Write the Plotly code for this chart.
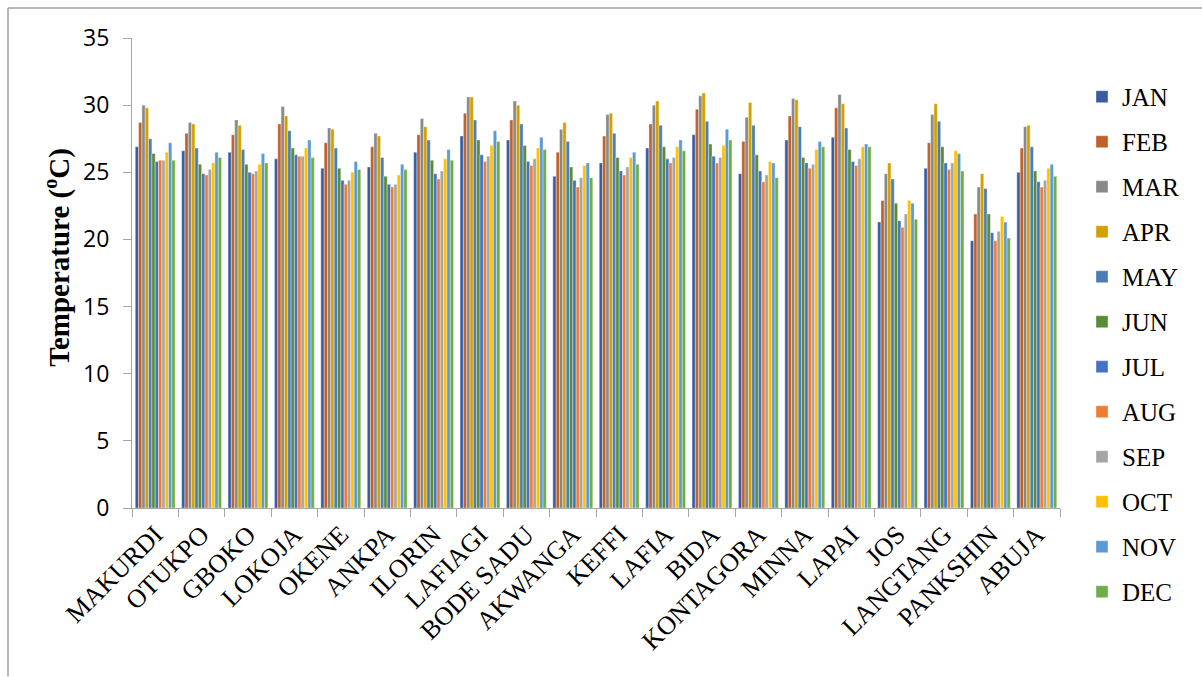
import plotly.graph_objects as go

stations = ["MAKURDI", "OTUKPO", "GBOKO", "LOKOJA", "OKENE", "ANKPA", "ILORIN", "LAFIAGI",
            "BODE SADU", "AKWANGA", "KEFFI", "LAFIA", "BIDA", "KONTAGORA", "MINNA", "LAPAI",
            "JOS", "LANGTANG", "PANKSHIN", "ABUJA"]
months = ["JAN", "FEB", "MAR", "APR", "MAY", "JUN", "JUL", "AUG", "SEP", "OCT", "NOV", "DEC"]

MAKURDI = [26.9, 28.7, 30.0, 29.8, 27.5, 26.4, 25.8, 25.9, 25.9, 26.5, 27.2, 25.9]
OTUKPO = [26.6, 27.9, 28.7, 28.6, 26.8, 25.6, 24.9, 24.8, 25.2, 25.7, 26.5, 26.1]
GBOKO = [26.5, 27.8, 28.9, 28.5, 26.7, 25.6, 25.0, 24.9, 25.1, 25.6, 26.4, 25.7]
LOKOJA = [26.0, 28.6, 29.9, 29.2, 28.1, 26.8, 26.3, 26.2, 26.2, 26.8, 27.4, 26.1]
OKENE = [25.3, 27.2, 28.3, 28.2, 26.8, 25.3, 24.4, 24.1, 24.4, 25.0, 25.8, 25.2]
ANKPA = [25.4, 26.9, 27.9, 27.7, 26.1, 24.7, 24.1, 23.9, 24.1, 24.8, 25.6, 25.2]
ILORIN = [26.5, 27.8, 29.0, 28.4, 27.4, 25.9, 24.9, 24.5, 25.1, 26.0, 26.7, 25.9]
LAFIAGI = [27.7, 29.4, 30.6, 30.6, 28.9, 27.4, 26.3, 25.8, 26.2, 27.0, 28.1, 27.3]
BODE_SADU = [27.4, 28.9, 30.3, 30.0, 28.6, 27.0, 25.8, 25.5, 26.0, 26.8, 27.6, 26.7]
AKWANGA = [24.7, 26.5, 28.2, 28.7, 27.3, 25.4, 24.4, 23.9, 24.6, 25.5, 25.7, 24.6]
KEFFI = [25.7, 27.7, 29.3, 29.4, 27.9, 26.1, 25.1, 24.8, 25.4, 26.1, 26.5, 25.6]
LAFIA = [26.8, 28.6, 30.0, 30.3, 28.5, 26.9, 26.0, 25.7, 26.1, 26.9, 27.4, 26.6]
BIDA = [27.8, 29.7, 30.7, 30.9, 28.8, 27.1, 26.2, 25.7, 26.1, 27.0, 28.2, 27.4]
KONTAGORA = [24.9, 27.3, 29.1, 30.2, 28.5, 26.3, 25.1, 24.3, 24.8, 25.8, 25.7, 24.6]
MINNA = [27.4, 29.2, 30.5, 30.4, 28.4, 26.1, 25.7, 25.3, 25.6, 26.7, 27.3, 26.9]
LAPAI = [27.6, 29.8, 30.8, 30.1, 28.3, 26.7, 25.8, 25.5, 26.0, 26.9, 27.1, 26.9]
JOS = [21.3, 22.9, 24.9, 25.7, 24.5, 22.7, 21.4, 20.9, 21.9, 22.9, 22.7, 21.5]
LANGTANG = [25.3, 27.2, 29.3, 30.1, 28.8, 26.9, 25.7, 25.2, 25.7, 26.6, 26.4, 25.1]
PANKSHIN = [19.9, 21.9, 23.9, 24.9, 23.8, 21.9, 20.5, 19.9, 20.6, 21.7, 21.3, 20.1]
ABUJA = [25.0, 26.8, 28.4, 28.5, 26.9, 25.1, 24.3, 23.9, 24.4, 25.3, 25.6, 24.7]

station_values = [MAKURDI, OTUKPO, GBOKO, LOKOJA, OKENE, ANKPA, ILORIN, LAFIAGI, BODE_SADU,
                  AKWANGA, KEFFI, LAFIA, BIDA, KONTAGORA, MINNA, LAPAI, JOS, LANGTANG,
                  PANKSHIN, ABUJA]

colors = ["#3A5DA2", "#C0612A", "#898989", "#D4A000", "#4A7EB5", "#5A8C38",
          "#4472C4", "#ED7D31", "#A5A5A5", "#FFC000", "#5B9BD5", "#70AD47"]

W, H = 1202, 677
L, R, T, B = 132, 142, 38, 168.5
pw, ph = W - L - R, H - T - B

fig = go.Figure()
for i, m in enumerate(months):
    fig.add_trace(go.Bar(
        x=stations,
        y=[vals[i] for vals in station_values],
        name=m,
        legendgroup=m,
        marker=dict(color=colors[i], line=dict(color="rgba(255,255,255,0.6)", width=0.6)),
    ))

fig.update_layout(
    width=W, height=H,
    margin=dict(l=L, r=R, t=T, b=B, pad=0),
    paper_bgcolor="white", plot_bgcolor="white",
    barmode="group", bargap=0.14, bargroupgap=0,
    showlegend=True,
    legend=dict(
        x=(1082 - L) / pw, y=(508.5 - 74) / ph, xanchor="left", yanchor="top",
        font=dict(family="Liberation Serif", size=25, color="black"),
        traceorder="grouped", tracegroupgap=9.5, maxheight=640,
        bgcolor="rgba(0,0,0,0)",
    ),
    font=dict(family="Liberation Serif", color="black"),
    xaxis=dict(
        showline=True, linecolor="#a6a6a6", linewidth=1,
        ticks="outside", tickson="boundaries", ticklen=8, tickcolor="#a6a6a6",
        tickangle=-45,
        tickfont=dict(family="Liberation Serif", size=26, color="black"),
        showgrid=False,
    ),
    yaxis=dict(
        range=[0, 35], dtick=5, tick0=0,
        showline=True, linecolor="#a6a6a6", linewidth=1,
        ticks="outside", ticklen=8, tickcolor="#a6a6a6",
        ticklabelstandoff=9,
        tickfont=dict(family="Open Sans", size=23, color="black"),
        showgrid=False, zeroline=False,
    ),
    annotations=[dict(
        text="Temperature (<sup>o</sup>C)",
        textangle=-90, xref="paper", yref="paper",
        x=(58 - L) / pw, y=(508.5 - 258) / ph, xanchor="center", yanchor="middle",
        showarrow=False,
        font=dict(family="Liberation Serif", size=29, color="black", weight="bold"),
    )],
    shapes=[
        dict(type="line", xref="paper", yref="paper",
             x0=(8 - L) / pw, x1=(W - L) / pw, y0=(508.5 - 8) / ph, y1=(508.5 - 8) / ph,
             line=dict(color="#a0a0a0", width=1.5)),
        dict(type="line", xref="paper", yref="paper",
             x0=(8 - L) / pw, x1=(8 - L) / pw, y0=(508.5 - 8) / ph, y1=(508.5 - H) / ph,
             line=dict(color="#a0a0a0", width=1.5)),
    ],
)

fig.write_html("out.html")
